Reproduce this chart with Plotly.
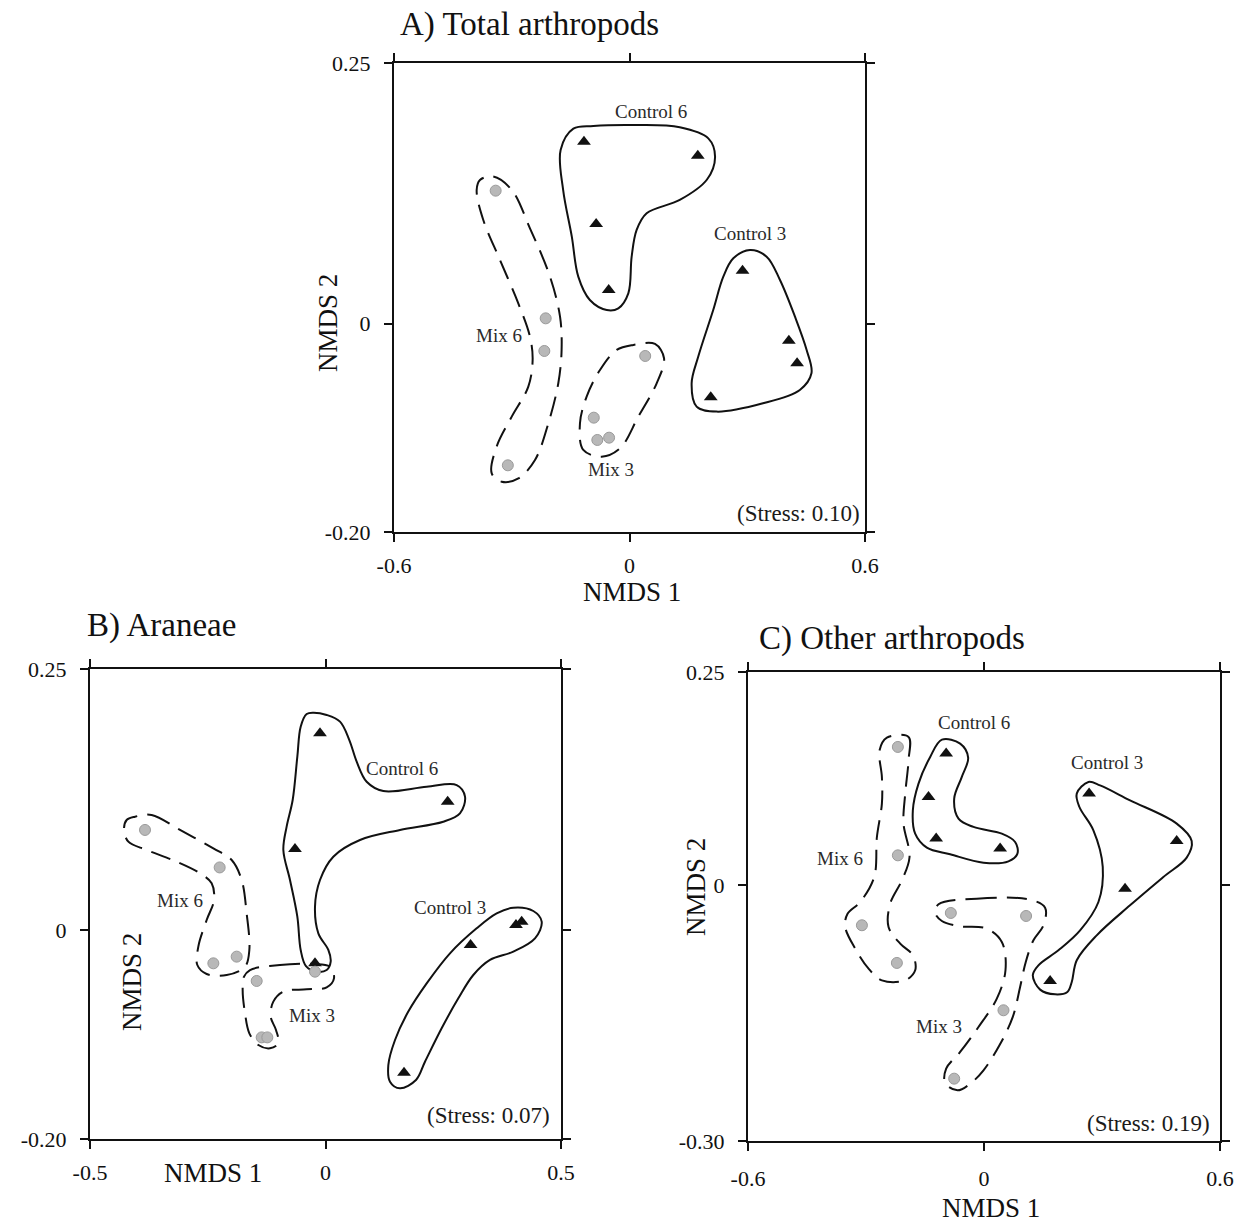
import plotly.graph_objects as go

FONT = "Liberation Serif"

# ---------------- Panel A: Total arthropods ----------------
A_c6_x = [-0.116, 0.174, -0.085, -0.053]
A_c6_y = [0.1745, 0.161, 0.0955, 0.0322]
A_c3_x = [0.288, 0.406, 0.427, 0.207]
A_c3_y = [0.0507, -0.0165, -0.0381, -0.0708]
A_m6_x = [-0.341, -0.2135, -0.217, -0.310]
A_m6_y = [0.1275, 0.005, -0.0263, -0.136]
A_m3_x = [0.040, -0.091, -0.082, -0.052]
A_m3_y = [-0.0311, -0.0903, -0.1117, -0.1095]

A_c6_hull_x = [-0.143, -0.092, 0.02, 0.128, 0.2008, 0.218, 0.197, 0.128, 0.0437, 0.0182, 0.0055,
               -0.003, -0.0285, -0.058, -0.101, -0.1305, -0.147, -0.169, -0.1755]
A_c6_hull_y = [0.187, 0.1896, 0.1905, 0.1883, 0.1777, 0.160, 0.138, 0.1186, 0.1058, 0.0898, 0.0642,
               0.029, 0.0146, 0.013, 0.0226, 0.045, 0.0834, 0.128, 0.1666]
A_c3_hull_x = [0.3069, 0.3494, 0.3834, 0.4216, 0.4513, 0.4636, 0.434, 0.340, 0.222, 0.171, 0.1583,
               0.1752, 0.2133, 0.2390, 0.2645]
A_c3_hull_y = [0.0706, 0.0642, 0.0418, 0.0066, -0.0254, -0.0477, -0.0637, -0.0765, -0.0845, -0.0797,
               -0.0573, -0.0317, 0.013, 0.045, 0.0626]
A_m6_hull_x = [-0.381, -0.347, -0.300, -0.2536, -0.2026, -0.177, -0.173, -0.1814, -0.2068, -0.2408,
               -0.283, -0.3257, -0.351, -0.3385, -0.300, -0.2578, -0.2468, -0.2536, -0.2833, -0.330,
               -0.3725, -0.3894]
A_m6_hull_y = [0.1378, 0.141, 0.1282, 0.0914, 0.045, 0.0066, -0.0253, -0.0573, -0.0957, -0.1309,
               -0.1485, -0.1517, -0.1437, -0.1181, -0.0893, -0.0605, -0.0349, -0.0126, 0.0194, 0.061,
               0.0994, 0.1282]
A_m3_hull_x = [0.0097, 0.065, 0.088, 0.0692, 0.0225, -0.0242, -0.071, -0.1177, -0.1262, -0.1092,
               -0.0752, -0.0327]
A_m3_hull_y = [-0.0205, -0.0196, -0.0333, -0.0573, -0.0893, -0.1197, -0.1277, -0.1213, -0.0957,
               -0.0701, -0.0445, -0.0253]
A_label_text = ["Control 6", "Control 3", "Mix 6", "Mix 3"]
A_label_x = [0.056, 0.307, -0.3325, -0.048]
A_label_y = [0.2033, 0.0866, -0.011, -0.14]

# ---------------- Panel B: Araneae ----------------
B_c6_x = [-0.0117, 0.2594, -0.0648, -0.0223]
B_c6_y = [0.1884, 0.1230, 0.0777, -0.0318]
B_c3_x = [0.4165, 0.4044, 0.308, 0.1667]
B_c3_y = [0.0081, 0.0049, -0.0142, -0.1365]
B_m6_x = [-0.3832, -0.2247, -0.1886, -0.2381]
B_m6_y = [0.0959, 0.060, -0.0254, -0.0318]
B_m3_x = [-0.1461, -0.0223, -0.1355, -0.1235]
B_m3_y = [-0.0487, -0.0398, -0.1027, -0.1027]

B_c6_hull_x = [-0.0258, 0.0025, 0.0308, 0.0506, 0.0662, 0.0874, 0.1228, 0.2148, 0.2785, 0.2962,
               0.2855, 0.2501, 0.1581, 0.0732, 0.0166, -0.0117, -0.0223, -0.0152, 0.0060, 0.011,
               0.0025, -0.0187, -0.0414, -0.0527, -0.0598, -0.0754, -0.0895, -0.0825, -0.0697,
               -0.0598, -0.0527, -0.040]
B_c6_hull_y = [0.2082, 0.206, 0.1996, 0.182, 0.1613, 0.1421, 0.1332, 0.1373, 0.1389, 0.1278,
               0.1118, 0.1038, 0.0959, 0.0863, 0.0703, 0.048, 0.0225, -0.0031, -0.0190, -0.0302,
               -0.0382, -0.0398, -0.0344, -0.019, 0.0129, 0.048, 0.0767, 0.0991, 0.1246,
               0.1661, 0.1948, 0.2069]
B_c3_hull_x = [0.3988, 0.4412, 0.459, 0.4448, 0.3988, 0.3492, 0.3138, 0.2820, 0.2466, 0.2112,
               0.1921, 0.158, 0.1369, 0.1334, 0.1476, 0.1758, 0.2148, 0.2643, 0.3209, 0.3634]
B_c3_hull_y = [0.0215, 0.0183, 0.0081, -0.0079, -0.0206, -0.0286, -0.043, -0.0653, -0.0940, -0.1260,
               -0.1435, -0.1515, -0.1451, -0.1292, -0.1052, -0.078, -0.051, -0.0222, 0.0017, 0.016]
B_m6_hull_x = [-0.4045, -0.3691, -0.3089, -0.2381, -0.1992, -0.178, -0.1674, -0.1617, -0.1709,
               -0.2098, -0.2523, -0.2721, -0.27, -0.2523, -0.2367, -0.2417, -0.2665, -0.316,
               -0.3797, -0.4186, -0.4278, -0.4222]
B_m6_hull_y = [0.1086, 0.1102, 0.0959, 0.0783, 0.0671, 0.048, 0.016, -0.019, -0.035, -0.043,
               -0.0420, -0.0334, -0.0158, 0.0097, 0.0288, 0.0448, 0.0544, 0.0655, 0.0767, 0.0847,
               0.0959, 0.1054]
B_m3_hull_x = [-0.1603, -0.0966, -0.0258, 0.0095, 0.018, 0.0025, -0.04, -0.0895, -0.1108, -0.1164,
               -0.1051, -0.1002, -0.1179, -0.1426, -0.1617, -0.1709, -0.1759, -0.173]
B_m3_hull_y = [-0.0382, -0.0334, -0.0324, -0.035, -0.0462, -0.0548, -0.0567, -0.0589, -0.0685,
               -0.0829, -0.0956, -0.1084, -0.1132, -0.11, -0.0988, -0.0797, -0.0573, -0.0446]
B_label_text = ["Control 6", "Control 3", "Mix 6", "Mix 3"]
B_label_x = [0.163, 0.2643, -0.309, -0.0294]
B_label_y = [0.1549, 0.0218, 0.0282, -0.0813]

# ---------------- Panel C: Other arthropods ----------------
C_c6_x = [-0.0962, -0.1411, -0.1216, 0.041]
C_c6_y = [0.1543, 0.1034, 0.0546, 0.0429]
C_c3_x = [0.2672, 0.4899, 0.3586, 0.1681]
C_c3_y = [0.1074, 0.0518, -0.0041, -0.1123]
C_m6_x = [-0.219, -0.219, -0.3104, -0.2215]
C_m6_y = [0.1621, 0.0350, -0.047, -0.0912]
C_m3_x = [-0.0843, 0.107, 0.0495, -0.0758]
C_m3_y = [-0.0326, -0.0361, -0.1467, -0.2269]

C_c6_hull_x = [-0.107, -0.0606, -0.0403, -0.0564, -0.0758, -0.0648, -0.0267, 0.0453, 0.0791, 0.085,
               0.0622, -0.0013, -0.0860, -0.1453, -0.175, -0.1809, -0.1665, -0.1368]
C_c6_hull_y = [0.1707, 0.166, 0.1496, 0.127, 0.1015, 0.078, 0.0683, 0.0604, 0.0507, 0.037,
               0.028, 0.0264, 0.0362, 0.0440, 0.0604, 0.0878, 0.1191, 0.1504]
C_c3_hull_x = [0.2655, 0.2951, 0.3713, 0.49, 0.528, 0.5153, 0.456, 0.3713, 0.2866, 0.2358, 0.2231,
               0.212, 0.1808, 0.1427, 0.124, 0.1384, 0.1892, 0.2443, 0.2909, 0.3019, 0.2781,
               0.2426, 0.2358]
C_c3_hull_y = [0.1210, 0.117, 0.0995, 0.0722, 0.0518, 0.0323, 0.0096, -0.0236, -0.0588, -0.088,
               -0.1135, -0.1252, -0.128, -0.1225, -0.1057, -0.094, -0.0764, -0.053, -0.0197,
               0.0214, 0.0644, 0.0917, 0.1074]
C_m6_hull_x = [-0.2469, -0.1919, -0.1919, -0.2003, -0.2046, -0.1893, -0.2088, -0.2385, -0.2427,
               -0.213, -0.1809, -0.175, -0.2004, -0.2596, -0.2935, -0.3274, -0.3528, -0.3469,
               -0.3147, -0.2791, -0.2723, -0.2596, -0.2596, -0.2655]
C_m6_hull_y = [0.1730, 0.1738, 0.1464, 0.1073, 0.0722, 0.0331, 0.0057, -0.0217, -0.049, -0.0686,
               -0.0822, -0.0998, -0.1116, -0.1116, -0.0979, -0.0744, -0.049, -0.0334, -0.0197,
               0.0096, 0.0565, 0.0956, 0.1269, 0.1582]
C_m3_hull_x = [-0.1156, -0.0183, 0.1173, 0.1553, 0.1511, 0.1257, 0.1062, 0.0918, 0.0732, 0.0393,
               -0.0013, -0.0351, -0.0674, -0.0987, -0.0962, -0.0606, -0.0140, 0.0326, 0.0546,
               0.0453, 0.0072, -0.0606, -0.1071, -0.1241]
C_m3_hull_y = [-0.0224, -0.0158, -0.0170, -0.0264, -0.047, -0.0646, -0.0900, -0.1194, -0.1545,
               -0.1878, -0.2171, -0.2328, -0.2406, -0.232, -0.2152, -0.1956, -0.1663, -0.133,
               -0.0998, -0.0666, -0.051, -0.0482, -0.042, -0.0326]
C_label_text = ["Control 6", "Control 3", "Mix 6", "Mix 3"]
C_label_x = [-0.025, 0.312, -0.3655, -0.1156]
C_label_y = [0.1902, 0.1437, 0.031, -0.1655]

# Axis settings
A_xrange, A_yrange = [-0.6, 0.6], [-0.20, 0.25]
B_xrange, B_yrange = [-0.5, 0.5], [-0.20, 0.25]
C_xrange, C_yrange = [-0.6, 0.6], [-0.30, 0.25]
A_xticks, A_xtext = [-0.6, 0, 0.6], ["-0.6", "0", "0.6"]
A_yticks, A_ytext = [-0.20, 0, 0.25], ["-0.20", "0", "0.25"]
B_xticks, B_xtext = [-0.5, 0, 0.5], ["-0.5", "0", "0.5"]
B_yticks, B_ytext = [-0.20, 0, 0.25], ["-0.20", "0", "0.25"]
C_xticks, C_xtext = [-0.6, 0, 0.6], ["-0.6", "0", "0.6"]
C_yticks, C_ytext = [-0.30, 0, 0.25], ["-0.30", "0", "0.25"]
stress_text = ["(Stress: 0.10)", "(Stress: 0.07)", "(Stress: 0.19)"]

W, H = 1251, 1222
# pixel boxes (left, right, top, bottom)
boxes = {
    "A": (394, 865, 63, 532),
    "B": (90, 561, 669, 1139),
    "C": (748, 1220, 672, 1141),
}

fig = go.Figure()

TRI = dict(symbol="triangle-up", size=12, color="#111111", line=dict(width=0))
CIR = dict(symbol="circle", size=11, color="#b8b8b8", line=dict(width=1, color="#9a9a9a"))


def closed(v):
    return list(v) + [v[0]]


def add_panel(xa, ya, hulls, groups):
    for hx, hy, dashed in hulls:
        fig.add_trace(go.Scatter(
            x=closed(hx), y=closed(hy), mode="lines", xaxis=xa, yaxis=ya,
            line=dict(shape="spline", smoothing=1.0, color="#111111", width=2,
                      dash="20px,10px" if dashed else "solid"),
            hoverinfo="skip", showlegend=False))
    for gx, gy, mk in groups:
        fig.add_trace(go.Scatter(x=gx, y=gy, mode="markers", xaxis=xa, yaxis=ya,
                                 marker=mk, showlegend=False, cliponaxis=False))


add_panel("x", "y",
          [(A_c6_hull_x, A_c6_hull_y, False), (A_c3_hull_x, A_c3_hull_y, False),
           (A_m6_hull_x, A_m6_hull_y, True), (A_m3_hull_x, A_m3_hull_y, True)],
          [(A_c6_x, A_c6_y, TRI), (A_c3_x, A_c3_y, TRI), (A_m6_x, A_m6_y, CIR), (A_m3_x, A_m3_y, CIR)])
add_panel("x2", "y2",
          [(B_c6_hull_x, B_c6_hull_y, False), (B_c3_hull_x, B_c3_hull_y, False),
           (B_m6_hull_x, B_m6_hull_y, True), (B_m3_hull_x, B_m3_hull_y, True)],
          [(B_c6_x, B_c6_y, TRI), (B_c3_x, B_c3_y, TRI), (B_m6_x, B_m6_y, CIR), (B_m3_x, B_m3_y, CIR)])
add_panel("x3", "y3",
          [(C_c6_hull_x, C_c6_hull_y, False), (C_c3_hull_x, C_c3_hull_y, False),
           (C_m6_hull_x, C_m6_hull_y, True), (C_m3_hull_x, C_m3_hull_y, True)],
          [(C_c6_x, C_c6_y, TRI), (C_c3_x, C_c3_y, TRI), (C_m6_x, C_m6_y, CIR), (C_m3_x, C_m3_y, CIR)])


def xdom(b):
    return [b[0] / W, b[1] / W]


def ydom(b):
    return [(H - b[3]) / H, (H - b[2]) / H]


def main_axis(dom, rng, tv, tt, anchor, standoff):
    return dict(domain=dom, range=rng, tickmode="array", tickvals=tv, ticktext=tt,
                ticks="outside", ticklen=8, tickwidth=1.6, tickcolor="#111111",
                showline=True, linewidth=2.2, linecolor="#111111", mirror="allticks",
                showgrid=False, zeroline=False, anchor=anchor, fixedrange=True,
                automargin=False,
                tickfont=dict(family=FONT, size=22, color="#111111"),
                ticklabelstandoff=standoff)


def inner_axis(over, rng, tv, anchor):
    return dict(overlaying=over, range=rng, tickmode="array", tickvals=tv,
                ticks="inside", ticklen=8, tickwidth=1.6, tickcolor="#111111",
                showline=False, mirror="allticks", showticklabels=False, automargin=False,
                showgrid=False, zeroline=False, anchor=anchor, fixedrange=True)


layout = dict(
    width=W, height=H, margin=dict(l=0, r=0, t=0, b=0, autoexpand=False),
    paper_bgcolor="white", plot_bgcolor="white", showlegend=False,
    font=dict(family=FONT, color="#111111"),
    xaxis=main_axis(xdom(boxes["A"]), A_xrange, A_xticks, A_xtext, "y", 4),
    yaxis=main_axis(ydom(boxes["A"]), A_yrange, A_yticks, A_ytext, "x", 9),
    xaxis2=main_axis(xdom(boxes["B"]), B_xrange, B_xticks, B_xtext, "y2", 4),
    yaxis2=main_axis(ydom(boxes["B"]), B_yrange, B_yticks, B_ytext, "x2", 9),
    xaxis3=main_axis(xdom(boxes["C"]), C_xrange, C_xticks, C_xtext, "y3", 8),
    yaxis3=main_axis(ydom(boxes["C"]), C_yrange, C_yticks, C_ytext, "x3", 9),
    xaxis4=inner_axis("x", A_xrange, A_xticks, "y"),
    yaxis4=inner_axis("y", A_yrange, A_yticks, "x"),
    xaxis5=inner_axis("x2", B_xrange, B_xticks, "y2"),
    yaxis5=inner_axis("y2", B_yrange, B_yticks, "x2"),
    xaxis6=inner_axis("x3", C_xrange, C_xticks, "y3"),
    yaxis6=inner_axis("y3", C_yrange, C_yticks, "x3"),
)
fig.update_layout(**layout)

ann = []
# group labels
for xa, ya, tx, lx, ly in [("x", "y", A_label_text, A_label_x, A_label_y),
                           ("x2", "y2", B_label_text, B_label_x, B_label_y),
                           ("x3", "y3", C_label_text, C_label_x, C_label_y)]:
    for t, x, y in zip(tx, lx, ly):
        ann.append(dict(x=x, y=y, xref=xa, yref=ya, text=t, showarrow=False,
                        font=dict(family=FONT, size=19, color="#2a2a2a")))

# stress
for xa, ya, t, sx, sy in [("x", "y", stress_text[0], 0.993, 0.040),
                          ("x2", "y2", stress_text[1], 0.980, 0.051),
                          ("x3", "y3", stress_text[2], 0.982, 0.037)]:
    ann.append(dict(x=sx, y=sy, xref=xa + " domain", yref=ya + " domain", text=t,
                    showarrow=False, xanchor="right", yanchor="middle",
                    font=dict(family=FONT, size=23, color="#1a1a1a")))

# panel titles
for t, px, py in [("A) Total arthropods", 398, 25), ("B) Araneae", 85, 626),
                  ("C) Other arthropods", 757, 638)]:
    ann.append(dict(x=px / W, y=(H - py) / H, xref="paper", yref="paper", text=t,
                    showarrow=False, xanchor="left", yanchor="middle",
                    font=dict(family=FONT, size=33, color="#111111")))

# axis titles
for t, px, py, rot in [("NMDS 1", 632, 592, 0), ("NMDS 2", 328, 323, -90),
                       ("NMDS 1", 213, 1173, 0), ("NMDS 2", 132, 982, -90),
                       ("NMDS 1", 991, 1208, 0), ("NMDS 2", 696, 887, -90)]:
    ann.append(dict(x=px / W, y=(H - py) / H, xref="paper", yref="paper", text=t,
                    showarrow=False, xanchor="center", yanchor="middle", textangle=rot,
                    font=dict(family=FONT, size=27, color="#111111")))

fig.update_layout(annotations=ann)
fig.write_html("out.html")
